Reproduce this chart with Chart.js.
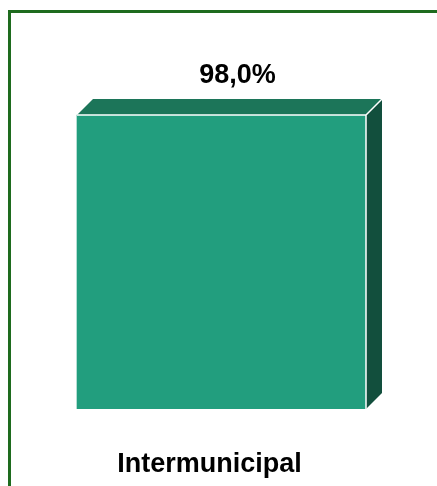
<!DOCTYPE html>
<html>
<head>
<meta charset="utf-8">
<script src="https://cdn.jsdelivr.net/npm/chart.js@4.4.1/dist/chart.umd.min.js"></script>
<style>
    html, body { margin: 0; padding: 0; background: #ffffff; overflow: hidden; }
    #frame {
        position: absolute; left: 8px; top: 10px;
        width: 520px; height: 560px;
        border: 3px solid #1E6B1E;
    }
    #wrap { position: absolute; left: 0; top: 0; width: 437px; height: 486px; }
</style>
</head>
<body>
<div id="frame"></div>
<div id="wrap"><canvas id="chart" width="437" height="486"></canvas></div>
<script>
const categories = ['Intermunicipal'];
const values = [98.0];
const yMax = 100;

// colours of the three visible faces
const frontColor = '#229E7E';
const topColor = '#1C7559';
const sideColor = '#124F3D';
const depth = 16;

// Fake 3D: draws top + side faces and the value label above the back face
const bar3d = {
    id: 'bar3d',
    afterDatasetsDraw(chart) {
        const c = chart.ctx;
        const meta = chart.getDatasetMeta(0);
        meta.data.forEach((bar, i) => {
            const { x, y, base, width } = bar.getProps(['x', 'y', 'base', 'width'], true);
            const l = x - width / 2, r = x + width / 2;
            c.save();
            c.lineWidth = 1.5;
            c.strokeStyle = '#ffffff';
            c.lineJoin = 'miter';

            // top face
            c.beginPath();
            c.moveTo(l, y);
            c.lineTo(l + depth, y - depth);
            c.lineTo(r + depth, y - depth);
            c.lineTo(r, y);
            c.closePath();
            c.fillStyle = topColor;
            c.fill();

            // side face
            c.beginPath();
            c.moveTo(r, y);
            c.lineTo(r + depth, y - depth);
            c.lineTo(r + depth, base - depth);
            c.lineTo(r, base);
            c.closePath();
            c.fillStyle = sideColor;
            c.fill();

            // white edges
            c.beginPath();
            c.moveTo(l, y);
            c.lineTo(r, y);
            c.lineTo(r + depth, y - depth);
            c.moveTo(r, y);
            c.lineTo(r, base);
            c.stroke();

            // value label
            c.fillStyle = '#000000';
            c.font = 'bold 27px "Liberation Sans", Arial, sans-serif';
            c.textAlign = 'center';
            c.textBaseline = 'alphabetic';
            const txt = values[i].toFixed(1).replace('.', ',') + '%';
            c.fillText(txt, x + depth, y - depth - 16);
            c.restore();
        });
    }
};

new Chart(document.getElementById('chart'), {
    type: 'bar',
    data: {
        labels: categories,
        datasets: [{
            data: values,
            backgroundColor: frontColor,
            borderWidth: 0,
            barThickness: 289
        }]
    },
    options: {
        responsive: false,
        animation: false,
        layout: { padding: { top: 109, bottom: 0, left: 40, right: 34 } },
        plugins: {
            legend: { display: false },
            tooltip: { enabled: false }
        },
        scales: {
            x: {
                grid: { display: false, drawTicks: false },
                border: { display: false },
                afterFit(scale) { scale.height = 77; },
                ticks: {
                    color: '#000000',
                    padding: 39,
                    labelOffset: -12,
                    font: { family: '"Liberation Sans", Arial, sans-serif', size: 27, weight: 'bold' }
                }
            },
            y: {
                display: false,
                min: 0,
                max: yMax
            }
        }
    },
    plugins: [bar3d]
});
</script>
</body>
</html>
